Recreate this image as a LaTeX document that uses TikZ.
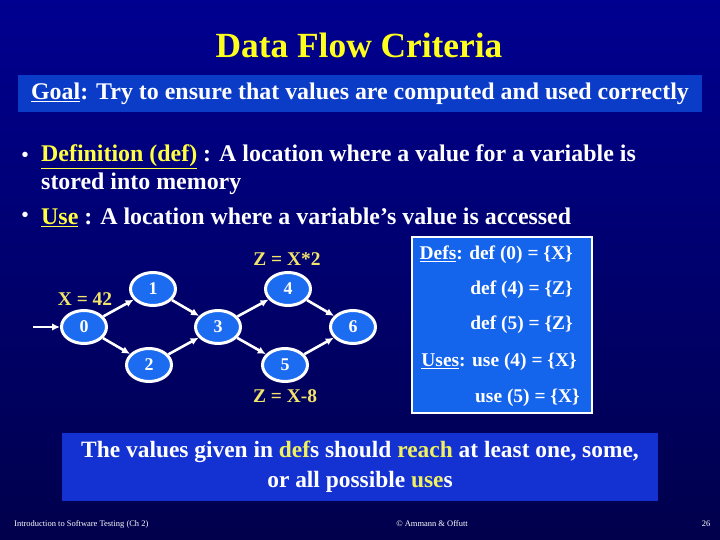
\documentclass[tikz,border=0pt]{standalone}
\usepackage{fontspec}
\setmainfont{Liberation Serif}
\usetikzlibrary{arrows.meta, positioning, shapes.geometric}
\definecolor{slidetop}{HTML}{000090}
\definecolor{slidebot}{HTML}{00004C}
\definecolor{goalblue}{HTML}{0A3CC8}
\definecolor{boxblue}{HTML}{1464EC}
\definecolor{nodeblue}{HTML}{1C6CF2}
\definecolor{noteblue}{HTML}{1432D2}
\definecolor{titleyel}{HTML}{FFFF1E}
\definecolor{hilite}{HTML}{FFFF40}
\definecolor{labyel}{HTML}{F2E46A}
\definecolor{noteyel}{HTML}{F0F060}

\begin{document}
\begin{tikzpicture}[x=1bp,y=-1bp,
  vertex/.style={ellipse, draw=white, line width=3bp, fill=nodeblue, minimum width=45bp,
    minimum height=33bp, inner sep=0pt, text=white, font=\bfseries\fontsize{18}{18}\selectfont},
  flow/.style={draw=white, line width=2.6bp, -{Latex[length=8bp,width=7.5bp]}},
  annot/.style={text=labyel, inner sep=0pt, font=\bfseries\fontsize{19.5}{19.5}\selectfont},
  bullet/.style={text=white, inner sep=0pt, font=\bfseries\fontsize{24}{24}\selectfont},
  defline/.style={anchor=east, text=white, inner sep=0pt, font=\bfseries\fontsize{19.5}{19.5}\selectfont},
  footer/.style={text=white, inner sep=0pt, font=\fontsize{8.5}{8.5}\selectfont}]
\useasboundingbox (0,0) rectangle (720,540);
\shade[top color=slidetop, bottom color=slidebot] (0,0) rectangle (720,540);

\node[text=titleyel, font=\bfseries\fontsize{35.5}{35.5}\selectfont] (title) at (359,45) {Data Flow Criteria};
\node[fill=goalblue, minimum width=684bp, minimum height=37bp, inner sep=0pt, text=white,
  font=\bfseries\fontsize{24}{24}\selectfont] (goal) at (360,93.5)
  {\underline{Goal}: Try to ensure that values are computed and used correctly};

\node[bullet, font=\bfseries\fontsize{20}{20}\selectfont] (dotA) at (25,157) {•};
\node[bullet, anchor=west] (defA) at (41,157)
  {\textcolor{hilite}{\underline{Definition (def)}} : A location where a value for a variable is};
\node[bullet, anchor=west] (defB) at (41,184) {stored into memory};
\node[bullet, font=\bfseries\fontsize{20}{20}\selectfont] (dotB) at (25,217) {•};
\node[bullet, anchor=west] (useA) at (41,217)
  {\textcolor{hilite}{\underline{Use}} : A location where a variable’s value is accessed};

\node[vertex] (n0) at (84,327) {0};
\node[vertex] (n1) at (153,289) {1};
\node[vertex] (n2) at (149,365) {2};
\node[vertex] (n3) at (218,327) {3};
\node[vertex] (n4) at (288,289) {4};
\node[vertex] (n5) at (285,365) {5};
\node[vertex] (n6) at (353,327) {6};
\coordinate (entry) at (33,327);
\draw[flow] (entry) -- (n0);
\draw[flow] (n0) -- (n1);
\draw[flow] (n0) -- (n2);
\draw[flow] (n1) -- (n3);
\draw[flow] (n2) -- (n3);
\draw[flow] (n3) -- (n4);
\draw[flow] (n3) -- (n5);
\draw[flow] (n4) -- (n6);
\draw[flow] (n5) -- (n6);
\node[annot] (lab0) at (85,299) {X = 42};
\node[annot] (lab4) at (287,259) {Z = X*2};
\node[annot] (lab5) at (285,396) {Z = X-8};

\node[draw=white, line width=1.8bp, fill=boxblue, minimum width=180bp, minimum height=176bp,
  inner sep=0pt] (defsbox) at (502,325) {};
\node[defline] (dl0) at (573,255) {\underline{Defs}: def (0) = \{X\}};
\node[defline] (dl4) at (573,290) {def (4) = \{Z\}};
\node[defline] (dl5) at (573,325) {def (5) = \{Z\}};
\node[defline] (ul4) at (577,362) {\underline{Uses}: use (4) = \{X\}};
\node[defline] (ul5) at (580,398) {use (5) = \{X\}};

\node[fill=noteblue, minimum width=596bp, minimum height=68bp, inner sep=0pt, align=center,
  text=white, font=\bfseries\fontsize{23.5}{30}\selectfont] (note) at (360,467)
  {The values given in \textcolor{noteyel}{def}s should \textcolor{noteyel}{reach} at least one, some,\\
   or all possible \textcolor{noteyel}{use}s};

\node[footer, anchor=west] (ftA) at (14,524) {Introduction to Software Testing (Ch 2)};
\node[footer] (ftB) at (432,524) {© Ammann \& Offutt};
\node[footer] (ftC) at (706,524) {26};
\end{tikzpicture}
\end{document}
